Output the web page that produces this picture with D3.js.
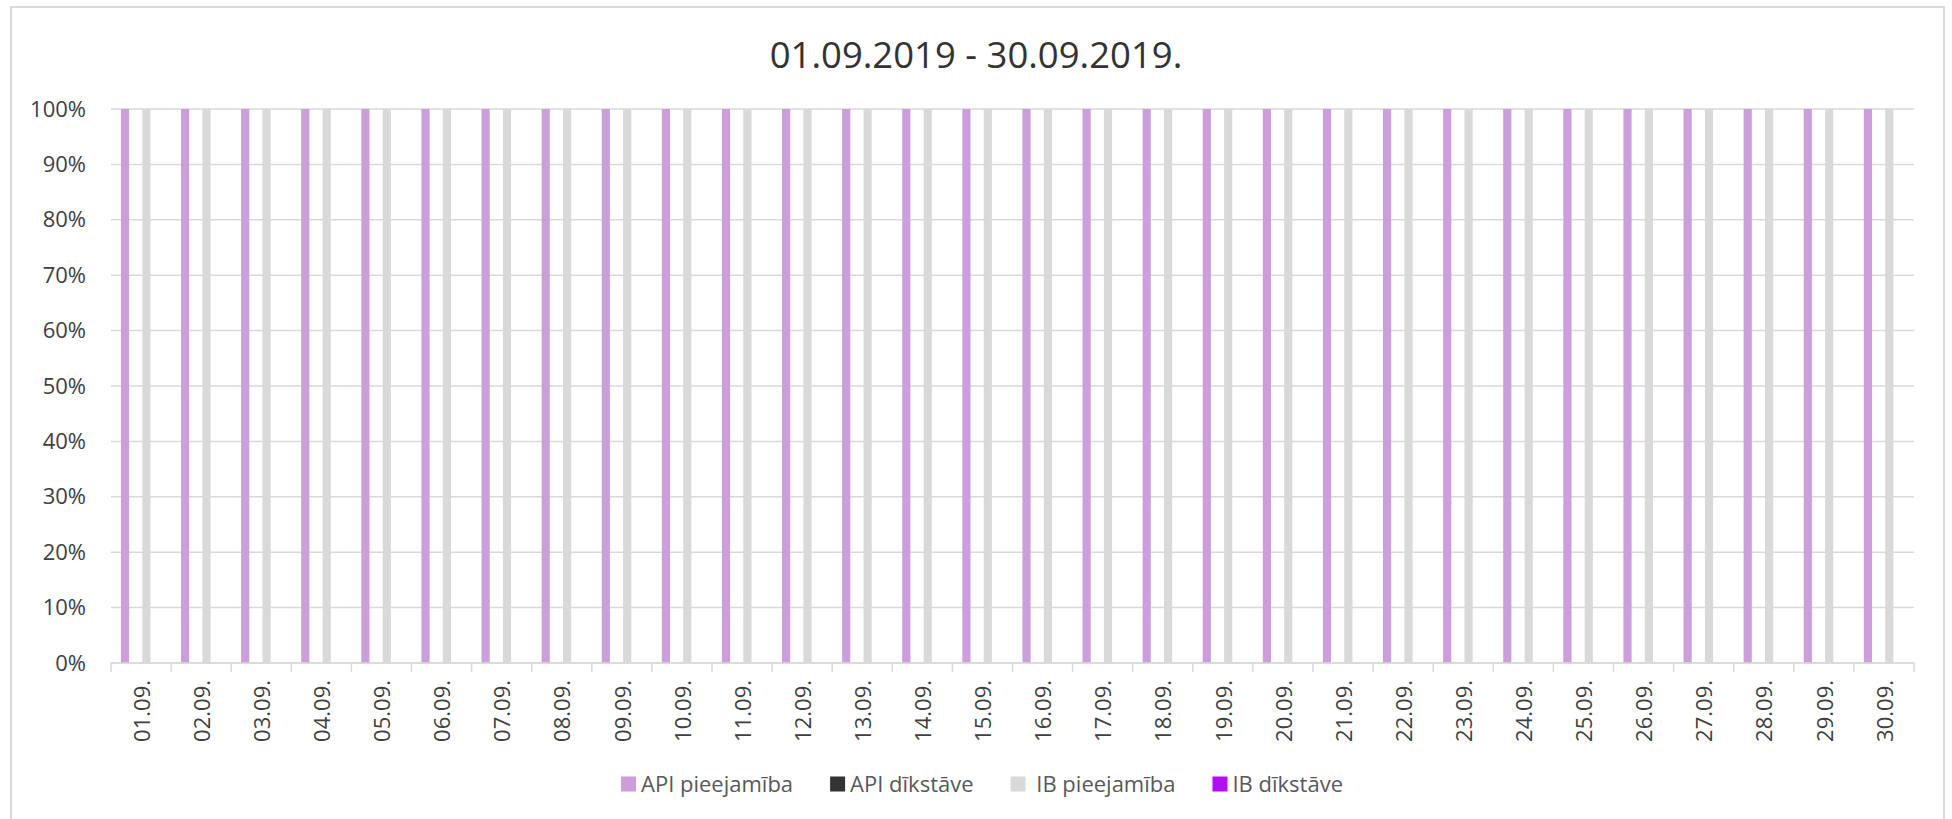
<!DOCTYPE html>
<html>
<head>
<meta charset="utf-8">
<script src="https://cdn.jsdelivr.net/npm/d3@7"></script>
<style>
  html, body { margin: 0; padding: 0; background: #ffffff; }
  svg { display: block; font-family: "Open Sans", "Noto Sans", sans-serif; }
</style>
</head>
<body>
<svg id="chart" width="1952" height="819"></svg>
<script>
// ---- data ----
const title = "01.09.2019 - 30.09.2019.";
const categories = ["01.09.","02.09.","03.09.","04.09.","05.09.","06.09.","07.09.","08.09.","09.09.","10.09.",
  "11.09.","12.09.","13.09.","14.09.","15.09.","16.09.","17.09.","18.09.","19.09.","20.09.",
  "21.09.","22.09.","23.09.","24.09.","25.09.","26.09.","27.09.","28.09.","29.09.","30.09."];
const seriesNames = ["API pieejamība", "API dīkstāve", " IB pieejamība", "IB dīkstāve"];
const seriesColors = ["#cc9edc", "#333333", "#d9d9d9", "#b30ef7"];
const apiAvailability = [100,100,100,100,100,100,100,100,100,100,100,100,100,100,100,100,100,100,100,100,100,100,100,100,100,100,100,100,100,100];
const apiDowntime     = [0,0,0,0,0,0,0,0,0,0,0,0,0,0,0,0,0,0,0,0,0,0,0,0,0,0,0,0,0,0];
const ibAvailability  = [100,100,100,100,100,100,100,100,100,100,100,100,100,100,100,100,100,100,100,100,100,100,100,100,100,100,100,100,100,100];
const ibDowntime      = [0,0,0,0,0,0,0,0,0,0,0,0,0,0,0,0,0,0,0,0,0,0,0,0,0,0,0,0,0,0];
const yTicks = [0,10,20,30,40,50,60,70,80,90,100];

const seriesValues = [apiAvailability, apiDowntime, ibAvailability, ibDowntime];

// ---- layout ----
const svg = d3.select("#chart");
const plot = { left: 111, right: 1914, top: 109, bottom: 663 };
const gridColor = "#d9d9d9";
const textColor = "#404040";

// chart border
svg.append("rect")
  .attr("x", 11).attr("y", 7)
  .attr("width", 1933).attr("height", 840)
  .attr("fill", "none").attr("stroke", gridColor).attr("stroke-width", 2);

// title
svg.append("text")
  .attr("x", 976).attr("y", 68)
  .attr("text-anchor", "middle")
  .attr("font-size", 36.5)
  .attr("fill", "#333333")
  .text(title);

const x0 = d3.scaleBand().domain(categories).range([plot.left, plot.right]).paddingInner(0).paddingOuter(0);
const bw = x0.bandwidth();
const x1 = d3.scaleBand().domain(d3.range(seriesNames.length))
  .range([bw * 0.165, bw * 0.835]).paddingInner(0.235).paddingOuter(0);
const y = d3.scaleLinear().domain([0, 100]).range([plot.bottom, plot.top]);

// gridlines
svg.append("g").selectAll("line").data(yTicks).join("line")
  .attr("x1", plot.left).attr("x2", plot.right)
  .attr("y1", d => y(d)).attr("y2", d => y(d))
  .attr("stroke", gridColor).attr("stroke-width", 1.5);

// y axis labels
const yAxis = d3.axisLeft(y).tickValues(yTicks).tickFormat(d => d + "%").tickSize(0).tickPadding(0);
const yg = svg.append("g").attr("transform", `translate(${plot.left - 25},0)`).call(yAxis);
yg.select(".domain").remove();
yg.selectAll("text").attr("font-size", 22).attr("fill", textColor)
  .attr("font-family", '"Open Sans", "Noto Sans", sans-serif');

// bars
const groups = svg.append("g").selectAll("g").data(categories).join("g")
  .attr("transform", d => `translate(${x0(d)},0)`);
groups.selectAll("rect")
  .data((d, i) => seriesValues.map((vals, s) => ({ s, v: vals[i] })))
  .join("rect")
  .attr("x", d => x1(d.s))
  .attr("width", x1.bandwidth())
  .attr("y", d => y(d.v))
  .attr("height", d => y(0) - y(d.v))
  .attr("fill", d => seriesColors[d.s]);

// x axis line and ticks
svg.append("line")
  .attr("x1", plot.left).attr("x2", plot.right)
  .attr("y1", plot.bottom).attr("y2", plot.bottom)
  .attr("stroke", gridColor).attr("stroke-width", 1.5);
const boundaries = categories.map(c => x0(c)).concat([plot.right]);
svg.append("g").selectAll("line").data(boundaries).join("line")
  .attr("x1", d => d).attr("x2", d => d)
  .attr("y1", plot.bottom).attr("y2", plot.bottom + 9)
  .attr("stroke", gridColor).attr("stroke-width", 1.5);

// x labels (rotated)
svg.append("g").selectAll("text").data(categories).join("text")
  .attr("transform", d => `translate(${x0(d) + bw / 2 + 1},${plot.bottom + 17}) rotate(-90)`)
  .attr("text-anchor", "end")
  .attr("dy", "0.35em")
  .attr("font-size", 22)
  .attr("fill", textColor)
  .text(d => d);

// legend
const legend = svg.append("g");
const legendY = 784;
const sq = 15, gapText = 5, gapItem = 37;
let cursor = 0;
seriesNames.forEach((name, i) => {
  const g = legend.append("g");
  g.append("rect").attr("x", 0).attr("y", legendY - sq / 2).attr("width", sq).attr("height", sq)
    .attr("fill", seriesColors[i]);
  const t = g.append("text").attr("x", sq + gapText).attr("y", legendY).attr("dy", "0.35em")
    .attr("font-size", 22).attr("fill", "#595959")
    .style("white-space", "pre").attr("xml:space", "preserve")
    .text(name);
  const w = sq + gapText + t.node().getComputedTextLength();
  g.attr("transform", `translate(${cursor},0)`);
  cursor += w + gapItem;
});
const total = cursor - gapItem;
legend.attr("transform", `translate(${982 - total / 2},0)`);
</script>
</body>
</html>
